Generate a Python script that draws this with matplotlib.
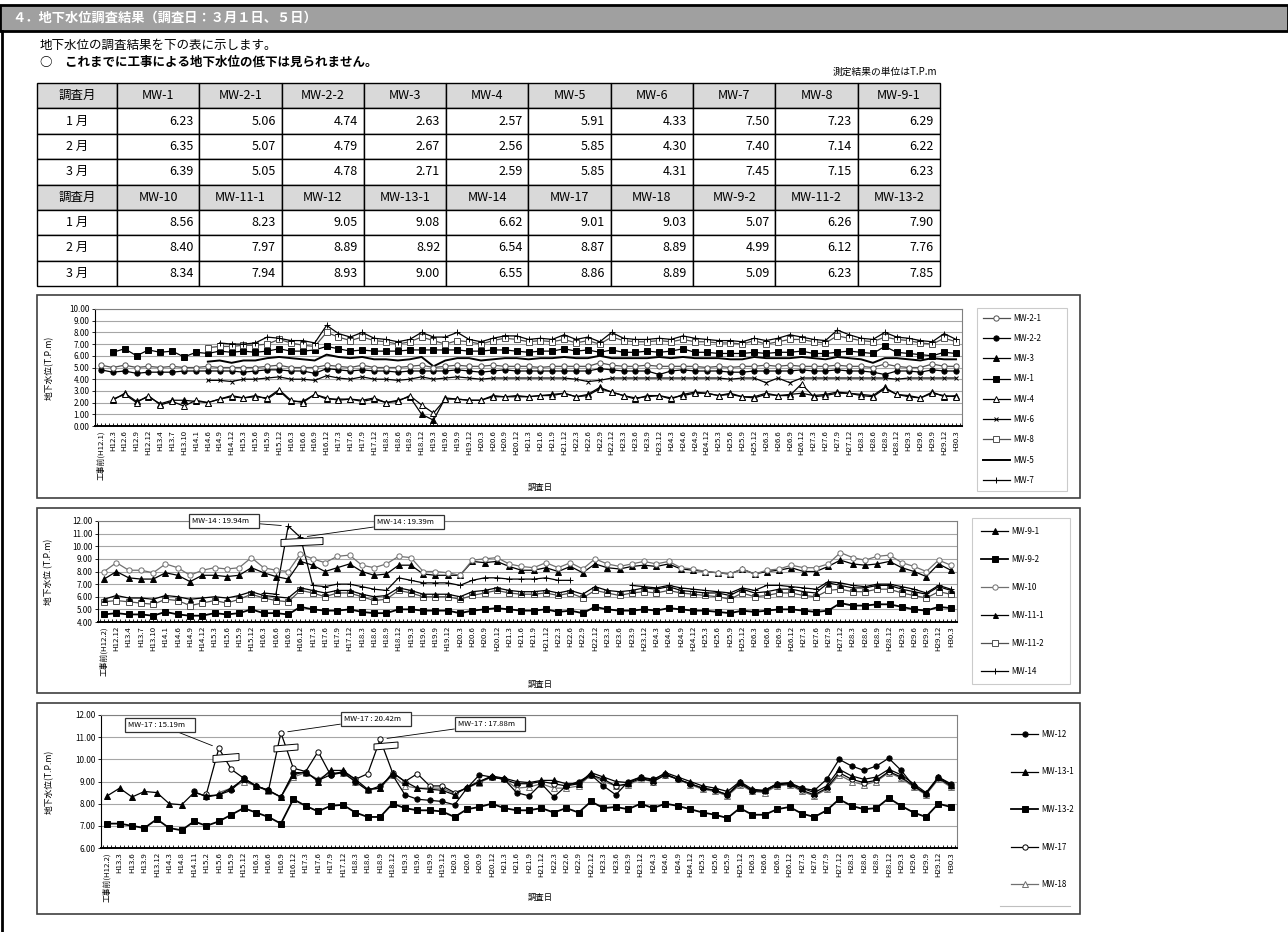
import numpy as np
import matplotlib
matplotlib.use('Agg')
import matplotlib.pyplot as plt
from matplotlib.patches import Rectangle, Polygon
from matplotlib.ticker import MultipleLocator, FormatStrFormatter

plt.rcParams['font.family'] = ['Noto Sans CJK JP', 'DejaVu Sans']

W, H = 1288, 932
N = None

# ---------------- table data ----------------
months = ['1 月', '2 月', '3 月']
wells_a = ['MW-1', 'MW-2-1', 'MW-2-2', 'MW-3', 'MW-4', 'MW-5', 'MW-6', 'MW-7', 'MW-8', 'MW-9-1']
jan_a = [6.23, 5.06, 4.74, 2.63, 2.57, 5.91, 4.33, 7.50, 7.23, 6.29]
feb_a = [6.35, 5.07, 4.79, 2.67, 2.56, 5.85, 4.30, 7.40, 7.14, 6.22]
mar_a = [6.39, 5.05, 4.78, 2.71, 2.59, 5.85, 4.31, 7.45, 7.15, 6.23]
wells_b = ['MW-10', 'MW-11-1', 'MW-12', 'MW-13-1', 'MW-14', 'MW-17', 'MW-18', 'MW-9-2', 'MW-11-2', 'MW-13-2']
jan_b = [8.56, 8.23, 9.05, 9.08, 6.62, 9.01, 9.03, 5.07, 6.26, 7.90]
feb_b = [8.40, 7.97, 8.89, 8.92, 6.54, 8.87, 8.89, 4.99, 6.12, 7.76]
mar_b = [8.34, 7.94, 8.93, 9.00, 6.55, 8.86, 8.89, 5.09, 6.23, 7.85]

# ---------------- chart 1 data ----------------
c1_labels = ['工事前(H12.1)'] + '''H12.3 H12.6 H12.9 H12.12 H13.4 H13.7 H13.10 H14.1 H14.6 H14.9 H14.12
H15.3 H15.6 H15.9 H15.12 H16.3 H16.6 H16.9 H16.12 H17.3 H17.6 H17.9 H17.12 H18.3 H18.6 H18.9 H18.12
H19.3 H19.6 H19.9 H19.12 H20.3 H20.6 H20.9 H20.12 H21.3 H21.6 H21.9 H21.12 H22.3 H22.6 H22.9 H22.12
H23.3 H23.6 H23.9 H23.12 H24.3 H24.6 H24.9 H24.12 H25.3 H25.6 H25.9 H25.12 H26.3 H26.6 H26.9 H26.12
H27.3 H27.6 H27.9 H27.12 H28.3 H28.6 H28.9 H28.12 H29.3 H29.6 H29.9 H29.12 H30.3'''.split()

mw2_1 = [5.2, 5.0, 5.2, 5.0, 5.1, 5.0, 5.1, 5.0, 5.0, 5.1,
         5.0, 5.0, 5.0, 5.0, 5.1, 5.2, 5.0, 5.0, 5.0, 5.2,
         5.1, 5.0, 5.2, 5.0, 5.0, 5.0, 5.1, 5.2, 5.0, 5.1,
         5.2, 5.1, 5.1, 5.2, 5.1, 5.1, 5.1, 5.0, 5.1, 5.1,
         5.1, 5.1, 5.4, 5.2, 5.1, 5.1, 5.2, 5.1, 5.1, 5.1,
         5.1, 5.0, 5.1, 5.0, 5.1, 5.1, 5.2, 5.1, 5.2, 5.1,
         5.1, 5.1, 5.2, 5.1, 5.1, 5.0, 5.3, 5.1, 5.0, 5.0,
         5.3, 5.1, 5.1]
mw2_2 = [4.8, 4.6, 4.7, 4.5, 4.6, 4.6, 4.6, 4.7, 4.7, 4.7,
         4.7, 4.7, 4.6, 4.7, 4.8, 4.8, 4.7, 4.7, 4.5, 4.9,
         4.8, 4.7, 4.8, 4.7, 4.7, 4.6, 4.7, 4.7, 4.7, 4.7,
         4.8, 4.7, 4.6, 4.7, 4.8, 4.7, 4.7, 4.7, 4.7, 4.7,
         4.7, 4.7, 4.9, 4.8, 4.7, 4.7, 4.7, 4.4, 4.7, 4.8,
         4.7, 4.7, 4.7, 4.6, 4.6, 4.7, 4.7, 4.7, 4.7, 4.8,
         4.7, 4.7, 4.8, 4.7, 4.7, 4.6, 4.4, 4.7, 4.7, 4.6,
         4.8, 4.7, 4.7]
mw3 = [N, 2.2, 2.8, 2.1, 2.5, 1.9, 2.2, 2.2, 2.1, 2.0,
       2.3, 2.5, 2.4, 2.6, 2.3, 3.0, 2.1, 2.1, 2.7, 2.3,
       2.3, 2.3, 2.1, 2.3, 2.0, 2.2, 2.5, 1.0, 0.5, 2.4,
       2.3, 2.2, 2.2, 2.6, 2.5, 2.6, 2.5, 2.6, 2.7, 2.8,
       2.5, 2.7, 3.3, 2.9, 2.6, 2.3, 2.6, 2.6, 2.3, 2.7,
       2.9, 2.8, 2.6, 2.8, 2.5, 2.5, 2.8, 2.6, 2.7, 2.8,
       2.6, 2.7, 2.9, 2.8, 2.7, 2.6, 3.3, 2.7, 2.6, 2.4,
       2.9, 2.5, 2.6]
mw1 = [N, 6.3, 6.6, 6.0, 6.5, 6.3, 6.4, 5.9, 6.3, 6.2,
       6.4, 6.3, 6.4, 6.3, 6.4, 6.6, 6.4, 6.4, 6.5, 6.8,
       6.6, 6.4, 6.5, 6.4, 6.4, 6.4, 6.5, 6.5, 6.5, 6.5,
       6.5, 6.4, 6.4, 6.5, 6.5, 6.4, 6.3, 6.4, 6.4, 6.6,
       6.4, 6.5, 6.3, 6.5, 6.3, 6.3, 6.4, 6.3, 6.4, 6.6,
       6.3, 6.3, 6.2, 6.2, 6.2, 6.3, 6.2, 6.3, 6.3, 6.4,
       6.2, 6.2, 6.3, 6.4, 6.3, 6.2, 6.8, 6.3, 6.2, 6.1,
       6.0, 6.3, 6.2]
mw4 = [N, 2.3, 2.7, 2.0, 2.6, 1.8, 2.1, 1.7, 2.2, 2.0,
       2.3, 2.6, 2.4, 2.5, 2.4, 3.1, 2.2, 2.0, 2.7, 2.4,
       2.2, 2.3, 2.2, 2.4, 2.0, 2.1, 2.6, 1.8, 1.1, 2.3,
       2.3, 2.2, 2.2, 2.5, 2.5, 2.5, 2.5, 2.6, 2.6, 2.8,
       2.5, 2.6, 3.2, 2.9, 2.6, 2.4, 2.5, 2.6, 2.4, 2.6,
       2.8, 2.8, 2.6, 2.7, 2.5, 2.4, 2.7, 2.6, 2.6, 3.6,
       2.5, 2.6, 2.8, 2.8, 2.6, 2.5, 3.2, 2.7, 2.5, 2.4,
       2.8, 2.6, 2.5]
mw6 = [N, N, N, N, N, N, N, N, N, 3.9,
       3.9, 3.8, 4.0, 4.0, 4.1, 4.2, 4.0, 4.0, 3.9, 4.3,
       4.1, 4.0, 4.2, 4.0, 4.0, 3.9, 4.0, 4.2, 4.0, 4.1,
       4.2, 4.1, 4.0, 4.1, 4.1, 4.1, 4.1, 4.1, 4.1, 4.1,
       4.0, 3.8, 3.9, 4.1, 4.1, 4.1, 4.1, 4.1, 4.1, 4.1,
       4.1, 4.1, 4.1, 4.0, 4.1, 4.1, 3.7, 4.1, 3.7, 4.1,
       4.1, 4.1, 4.1, 4.1, 4.1, 4.1, 4.1, 4.0, 4.1, 4.1,
       4.1, 4.1, 4.1]
mw8 = [N, N, N, N, N, N, N, N, N, 6.7,
       6.8, 6.8, 6.9, 6.9, 7.0, 7.4, 7.1, 6.9, 6.8, 8.0,
       7.6, 7.3, 7.6, 7.3, 7.2, 7.0, 7.2, 7.6, 7.3, 7.0,
       7.3, 7.2, 7.0, 7.3, 7.5, 7.4, 7.2, 7.3, 7.2, 7.4,
       7.1, 7.3, 7.0, 7.6, 7.3, 7.2, 7.2, 7.3, 7.2, 7.4,
       7.2, 7.2, 7.1, 7.1, 7.0, 7.3, 7.0, 7.2, 7.4, 7.4,
       7.2, 7.1, 7.7, 7.5, 7.3, 7.2, 7.6, 7.4, 7.3, 7.1,
       7.0, 7.5, 7.2]
mw5 = [N, N, N, N, N, N, N, N, N, 5.5,
       5.6, 5.4, 5.6, 5.6, 5.8, 5.9, 5.8, 5.7, 5.6, 6.1,
       5.9, 5.8, 5.9, 5.7, 5.7, 5.6, 5.7, 5.9, 5.1, 5.6,
       5.8, 5.8, 5.6, 5.7, 5.8, 5.8, 5.7, 5.8, 5.8, 5.9,
       5.8, 5.8, 6.0, 5.8, 5.8, 5.8, 5.8, 5.9, 5.8, 5.9,
       5.8, 5.8, 5.8, 5.7, 5.7, 5.9, 5.8, 5.8, 5.8, 5.9,
       5.8, 5.7, 5.9, 5.8, 5.7, 5.4, 5.8, 5.8, 5.7, 5.6,
       5.8, 5.7, 5.7]
mw7 = [N, N, N, N, N, N, N, N, N, N,
       7.1, 7.0, 7.0, 7.1, 7.6, 7.5, 7.3, 7.3, 7.1, 8.6,
       7.9, 7.6, 8.0, 7.5, 7.4, 7.2, 7.4, 8.0, 7.6, 7.6,
       8.0, 7.4, 7.2, 7.5, 7.7, 7.7, 7.4, 7.5, 7.4, 7.8,
       7.4, 7.6, 7.2, 8.0, 7.5, 7.4, 7.4, 7.5, 7.4, 7.7,
       7.5, 7.4, 7.3, 7.3, 7.2, 7.5, 7.3, 7.5, 7.8, 7.6,
       7.4, 7.3, 8.2, 7.8, 7.5, 7.4, 8.0, 7.6, 7.5, 7.3,
       7.2, 7.9, 7.4]

# ---------------- chart 2 data ----------------
c2_labels = ['工事前(H12.2)'] + '''H12.12 H13.4 H13.7 H13.10 H14.1 H14.6 H14.9 H14.12
H15.3 H15.6 H15.9 H15.12 H16.3 H16.6 H16.9 H16.12 H17.3 H17.6 H17.9 H17.12 H18.3 H18.6 H18.9 H18.12
H19.3 H19.6 H19.9 H19.12 H20.3 H20.6 H20.9 H20.12 H21.3 H21.6 H21.9 H21.12 H22.3 H22.6 H22.9 H22.12
H23.3 H23.6 H23.9 H23.12 H24.3 H24.6 H24.9 H24.12 H25.3 H25.6 H25.9 H25.12 H26.3 H26.6 H26.9 H26.12
H27.3 H27.6 H27.9 H27.12 H28.3 H28.6 H28.9 H28.12 H29.3 H29.6 H29.9 H29.12 H30.3'''.split()

mw9_1 = [7.4, 8.0, 7.5, 7.4, 7.4, 7.9, 7.7, 7.2, 7.7, 7.7,
         7.6, 7.7, 8.3, 7.9, 7.6, 7.4, 8.8, 8.5, 8.0, 8.3,
         8.6, 8.0, 7.7, 7.8, 8.5, 8.5, 7.8, 7.7, 7.7, 7.7,
         8.8, 8.7, 8.8, 8.4, 8.1, 8.1, 8.3, 8.0, 8.4, 7.9,
         8.6, 8.3, 8.2, 8.4, 8.5, 8.4, 8.6, 8.2, 8.1, 8.0,
         7.9, 7.8, 8.2, 7.8, 8.0, 8.1, 8.3, 8.0, 8.0, 8.4,
         8.9, 8.6, 8.5, 8.6, 8.8, 8.3, 8.0, 7.6, 8.6, 8.1]
mw9_2 = [4.6, 4.7, 4.6, 4.6, 4.5, 4.8, 4.6, 4.5, 4.5, 4.7,
         4.6, 4.7, 5.0, 4.7, 4.7, 4.6, 5.2, 5.0, 4.9, 4.9,
         5.0, 4.8, 4.7, 4.7, 5.0, 5.0, 4.9, 4.9, 4.9, 4.7,
         4.9, 5.0, 5.1, 5.0, 4.9, 4.9, 5.0, 4.8, 4.9, 4.7,
         5.2, 5.0, 4.9, 4.9, 5.0, 4.9, 5.1, 5.0, 4.9, 4.9,
         4.8, 4.7, 4.9, 4.8, 4.9, 5.0, 5.0, 4.9, 4.8, 4.9,
         5.5, 5.3, 5.3, 5.4, 5.4, 5.2, 5.0, 4.9, 5.2, 5.1]
mw10 = [8.0, 8.7, 8.1, 8.1, 7.9, 8.6, 8.3, 7.7, 8.1, 8.3,
        8.2, 8.3, 9.1, 8.3, 8.1, 8.0, 9.4, 9.0, 8.7, 9.2,
        9.3, 8.5, 8.3, 8.6, 9.2, 9.1, 8.0, 8.0, 7.9, 7.7,
        8.9, 9.0, 9.1, 8.6, 8.4, 8.3, 8.7, 8.3, 8.7, 8.2,
        9.0, 8.6, 8.4, 8.6, 8.8, 8.6, 8.8, 8.3, 8.2, 8.0,
        7.9, 7.8, 8.2, 7.8, 8.1, 8.2, 8.5, 8.3, 8.3, 8.6,
        9.5, 9.1, 8.9, 9.2, 9.3, 8.7, 8.4, 8.0, 8.9, 8.5]
mw11_1 = [5.8, 6.1, 5.9, 5.9, 5.8, 6.1, 6.0, 5.8, 5.9, 6.0,
          5.9, 6.1, 6.4, 6.1, 6.0, 5.9, 6.7, 6.5, 6.3, 6.5,
          6.5, 6.2, 6.0, 6.1, 6.7, 6.5, 6.2, 6.2, 6.2, 6.0,
          6.4, 6.5, 6.7, 6.5, 6.4, 6.4, 6.5, 6.3, 6.5, 6.2,
          6.8, 6.5, 6.4, 6.5, 6.7, 6.6, 6.8, 6.5, 6.4, 6.3,
          6.3, 6.1, 6.6, 6.3, 6.4, 6.6, 6.6, 6.4, 6.3, 7.1,
          6.9, 6.7, 6.7, 6.9, 6.9, 6.6, 6.4, 6.2, 6.8, 6.5]
mw11_2 = [5.6, 5.7, 5.6, 5.5, 5.4, 5.8, 5.7, 5.3, 5.5, 5.7,
          5.5, 5.8, 6.2, 5.9, 5.7, 5.6, 6.5, 6.3, 6.0, 6.3,
          6.3, 6.0, 5.7, 5.8, 6.5, 6.3, 6.0, 6.0, 6.0, 5.8,
          6.1, 6.3, 6.5, 6.3, 6.2, 6.2, 6.3, 6.1, 6.3, 5.9,
          6.5, 6.3, 6.1, 6.3, 6.4, 6.3, 6.5, 6.3, 6.2, 6.1,
          6.0, 5.8, 6.3, 6.0, 6.1, 6.3, 6.3, 6.1, 6.0, 6.5,
          6.6, 6.4, 6.4, 6.6, 6.6, 6.3, 6.1, 5.9, 6.4, 6.2]
mw14 = [N, N, N, N, N, N, N, N, N, N,
        N, N, N, 6.3, 6.2, 11.6, 10.7, 6.9, 6.8, 7.0,
        7.0, 6.8, 6.6, 6.5, 7.5, 7.3, 7.1, 7.1, 7.1, 6.9,
        7.3, 7.5, 7.5, 7.4, 7.4, 7.4, 7.5, 7.3, 7.3, N,
        N, N, N, 6.9, 6.8, 6.7, 6.9, 6.7, 6.6, 6.5,
        6.4, 6.3, 6.7, 6.5, 6.9, 6.9, 6.8, 6.7, 6.6, 7.2,
        7.1, 6.9, 6.8, 7.0, 7.0, 6.8, 6.6, 6.3, 6.9, 6.6]
c2_notes = [('MW-14 : 19.94m', 15), ('MW-14 : 19.39m', 16)]

# ---------------- chart 3 data ----------------
c3_labels = ['工事前(H12.2)'] + '''H13.3 H13.6 H13.9 H13.12 H14.3 H14.8 H14.11 H15.2 H15.6 H15.9 H15.12
H16.3 H16.6 H16.9 H16.12 H17.3 H17.6 H17.9 H17.12 H18.3 H18.6 H18.9 H18.12
H19.3 H19.6 H19.9 H19.12 H20.3 H20.6 H20.9 H20.12 H21.3 H21.6 H21.9 H21.12 H22.3 H22.6 H22.9 H22.12
H23.3 H23.6 H23.9 H23.12 H24.3 H24.6 H24.9 H24.12 H25.3 H25.6 H25.9 H25.12 H26.3 H26.6 H26.9 H26.12
H27.3 H27.6 H27.9 H27.12 H28.3 H28.6 H28.9 H28.12 H29.3 H29.6 H29.9 H29.12 H30.3'''.split()

mw12 = [N, N, N, N, N, N, N, 8.55, 8.3, 8.4,
        8.6, 9.15, 8.8, 8.6, 8.3, 9.4, 9.4, 9.05, 9.3, 9.4,
        9.0, 8.6, 8.8, 9.3, 8.4, 8.2, 8.15, 8.1, 7.95, 8.7,
        9.3, 9.2, 9.1, 8.5, 8.35, 8.9, 8.3, 8.8, 9.0, 9.3,
        8.8, 8.4, 9.0, 9.2, 9.1, 9.35, 9.1, 8.9, 8.7, 8.6,
        8.4, 9.0, 8.55, 8.6, 8.9, 8.9, 8.7, 8.6, 9.1, 10.0,
        9.7, 9.5, 9.7, 10.05, 9.5, 8.8, 8.45, 9.2, 8.9]
mw13_1 = [8.35, 8.7, 8.3, 8.55, 8.5, 8.0, 7.95, 8.5, 8.35, 8.4,
          8.7, 9.1, 8.8, 8.6, 8.3, 9.3, 9.45, 9.0, 9.5, 9.5,
          9.1, 8.65, 8.7, 9.4, 9.0, 8.7, 8.65, 8.6, 8.4, 8.75,
          9.0, 9.25, 9.15, 9.0, 8.95, 9.05, 9.05, 8.9, 8.9, 9.4,
          9.2, 9.0, 8.95, 9.2, 9.05, 9.4, 9.2, 9.0, 8.8, 8.7,
          8.55, 9.0, 8.65, 8.6, 8.9, 8.95, 8.7, 8.5, 8.8, 9.55,
          9.25, 9.1, 9.2, 9.55, 9.3, 8.9, 8.5, 9.2, 8.85]
mw13_2 = [7.1, 7.1, 7.0, 6.9, 7.3, 6.9, 6.8, 7.2, 7.0, 7.2,
          7.5, 7.8, 7.6, 7.4, 7.1, 8.2, 7.9, 7.65, 7.9, 7.95,
          7.6, 7.4, 7.4, 8.0, 7.8, 7.7, 7.7, 7.65, 7.4, 7.75,
          7.85, 8.0, 7.8, 7.7, 7.7, 7.8, 7.6, 7.8, 7.6, 8.1,
          7.8, 7.85, 7.75, 8.0, 7.8, 8.0, 7.9, 7.75, 7.6, 7.5,
          7.35, 7.8, 7.5, 7.5, 7.75, 7.85, 7.55, 7.4, 7.7, 8.2,
          7.9, 7.75, 7.8, 8.25, 7.9, 7.6, 7.4, 8.0, 7.85]
mw17 = [N, N, N, N, N, N, N, N, 8.45, 10.5,
        9.55, 9.15, 8.8, 8.6, 11.2, 9.6, 9.45, 10.35, 9.3, 9.45,
        9.1, 9.35, 10.9, 9.4, 9.0, 9.35, 8.8, 8.8, 8.5, 8.7,
        9.0, 9.2, 9.1, 8.9, 8.9, 9.0, 8.9, 8.8, 8.9, 9.3,
        9.1, 8.8, 8.9, 9.15, 9.0, 9.3, 9.1, 8.9, 8.7, 8.6,
        8.4, 8.9, 8.6, 8.55, 8.85, 8.9, 8.6, 8.4, 8.7, 9.4,
        9.1, 8.95, 9.05, 9.45, 9.2, 8.8, 8.45, 9.15, 8.8]
mw18 = [N, N, N, N, N, N, N, N, N, 8.5,
        8.7, 9.0, 8.8, 8.55, 8.3, 9.2, 9.4, 9.1, 9.4, 9.4,
        9.0, 8.6, 8.7, 9.3, 8.8, 8.7, 8.7, 8.7, 8.45, 8.7,
        8.95, 9.2, 9.1, 8.7, 8.75, 8.9, 8.7, 8.7, 8.8, 9.3,
        9.0, 8.8, 8.85, 9.1, 9.0, 9.3, 9.1, 8.85, 8.65, 8.55,
        8.35, 8.85, 8.55, 8.5, 8.8, 8.85, 8.55, 8.35, 8.65, 9.3,
        9.0, 8.85, 9.0, 9.4, 9.15, 8.75, 8.4, 9.1, 8.75]
c3_notes = [('MW-17 : 15.19m', 9), ('MW-17 : 20.42m', 14), ('MW-17 : 17.88m', 22)]


def fig_box(x0, y0, x1, y1):
    # pixel box (top-left origin) -> figure fraction
    return [x0 / W, 1 - y1 / H, (x1 - x0) / W, (y1 - y0) / H]


def style(marker, face='black', edge='black', ms=3.8, lw=0.9, color='black'):
    return dict(marker=marker, mfc=face, mec=edge, ms=ms, lw=lw, color=color, mew=0.7)


fig = plt.figure(figsize=(W / 100, H / 100), dpi=100)
bg = fig.add_axes([0, 0, 1, 1])
bg.set_xlim(0, W)
bg.set_ylim(H, 0)
bg.axis('off')

# header bar and page border
bg.add_patch(Rectangle((0, 5), W, 26, fc='#a0a0a0', ec='black', lw=2))
bg.text(12, 18, '４．地下水位調査結果（調査日：３月１日、５日）', color='white',
        fontsize=9.5, fontweight='bold', va='center')
bg.plot([2, 2], [31, H], color='black', lw=2)

bg.text(40, 45, '地下水位の調査結果を下の表に示します。', fontsize=9, va='center')
bg.text(40, 62, '○　これまでに工事による地下水位の低下は見られません。', fontsize=9,
        fontweight='bold', va='center')
bg.text(937, 72, '測定結果の単位はT.P.m', fontsize=7, ha='right', va='center')

# table
col_x = [37] + list(np.linspace(117, 940, 11))
row_y = np.linspace(83, 286, 9)
r = 0
for wells, vals in [(wells_a, [jan_a, feb_a, mar_a]), (wells_b, [jan_b, feb_b, mar_b])]:
    rows = [['調査月'] + wells] + [[m] + ['%.2f' % v for v in row] for m, row in zip(months, vals)]
    for k, row in enumerate(rows):
        y0, y1 = row_y[r], row_y[r + 1]
        for c, txt in enumerate(row):
            x0, x1 = col_x[c], col_x[c + 1]
            bg.add_patch(Rectangle((x0, y0), x1 - x0, y1 - y0,
                                   fc='#d9d9d9' if k == 0 else 'white', ec='black', lw=1))
            if k == 0 or c == 0:
                bg.text((x0 + x1) / 2, (y0 + y1) / 2, txt, ha='center', va='center', fontsize=9)
            else:
                bg.text(x1 - 6, (y0 + y1) / 2, txt, ha='right', va='center', fontsize=9)
        r += 1


def draw_chart(frame, plot, labels, series, ylim, ystep, ylabel, xlabel_y):
    x0, y0, x1, y1 = frame
    bg.add_patch(Rectangle((x0, y0), x1 - x0, y1 - y0, fc='white', ec='#404040', lw=1.2))
    ax = fig.add_axes(fig_box(*plot))
    x = np.arange(len(labels))
    lines = {}
    for name, vals, st in series:
        lines[name] = ax.plot(x, np.array(vals, dtype=float), label=name, **st)[0]
    ax.set_xlim(-0.5, len(labels) - 0.5)
    ax.set_ylim(*ylim)
    ax.yaxis.set_major_locator(MultipleLocator(ystep))
    ax.yaxis.set_major_formatter(FormatStrFormatter('%.2f'))
    ax.set_xticks(x)
    ax.set_xticklabels(labels, rotation=90, fontsize=5.6)
    ax.xaxis.set_minor_locator(MultipleLocator(1 / 3))
    ax.tick_params(axis='x', which='both', direction='in', length=2, width=0.6, pad=3)
    ax.tick_params(axis='y', labelsize=5.8, length=2, width=0.6, pad=2)
    ax.yaxis.grid(True, color='#a6a6a6', lw=0.8)
    ax.set_axisbelow(True)
    for s in ['top', 'right']:
        ax.spines[s].set_color('#808080')
        ax.spines[s].set_linewidth(0.8)
    ax.spines['left'].set_linewidth(0.8)
    ax.spines['bottom'].set_linewidth(1.4)
    bg.text(49, (plot[1] + plot[3]) / 2, ylabel, rotation=90, fontsize=6.3, ha='center', va='center')
    bg.text(540, xlabel_y, '調査日', fontsize=6, ha='center', va='center')
    return ax, lines


def add_legend(ax, lines, order, top, left, width, spacing, pad, frame=True):
    leg = ax.legend([lines[k] for k in order], order, loc='upper left',
                    bbox_to_anchor=(left / W, 1 - top / H, width / W, 0),
                    bbox_transform=fig.transFigure, mode='expand', borderaxespad=0,
                    fontsize=5.8, handlelength=3.4, handletextpad=0.4,
                    labelspacing=spacing, borderpad=pad, frameon=frame, fancybox=False)
    leg.get_frame().set_edgecolor('#bfbfbf')
    leg.get_frame().set_linewidth(0.8)
    return leg


def add_notes(ax, vals, notes, boxes):
    for (txt, i), (bx, by) in zip(notes, boxes):
        ax.annotate(txt + '    ', xy=(i, vals[i]), xytext=(bx, by), textcoords=bg.transData,
                    ha='center', va='center', fontsize=5.6, zorder=6, annotation_clip=False,
                    bbox=dict(boxstyle='square,pad=0.4', fc='white', ec='#333333', lw=0.9),
                    arrowprops=dict(arrowstyle='-', lw=0.6, color='black', shrinkA=0, shrinkB=5))


def add_break(ax, cx, cy, w, h):
    pts = [(cx - w / 2, cy - h / 2 + 1), (cx + w / 2, cy - h / 2 - 1),
           (cx + w / 2, cy + h / 2 - 1), (cx - w / 2, cy + h / 2 + 1)]
    ax.add_artist(Polygon(pts, closed=True, fc='white', ec='black', lw=0.7,
                          transform=bg.transData, clip_on=False, zorder=5))


# ---------------- chart 1 ----------------
gray = '#505050'
ax1, l1 = draw_chart((37, 295, 1080, 498), (95, 309, 962, 426), c1_labels, [
    ('MW-5', mw5, dict(lw=1.4, color='black')),
    ('MW-2-2', mw2_2, style('o')),
    ('MW-2-1', mw2_1, style('o', face='white', edge=gray, color=gray)),
    ('MW-1', mw1, style('s', ms=4)),
    ('MW-6', mw6, style('x', ms=3.4)),
    ('MW-8', mw8, style('s', face='white', edge=gray, ms=4, color=gray)),
    ('MW-7', mw7, style('+', ms=4.5)),
    ('MW-3', mw3, style('^', ms=4)),
    ('MW-4', mw4, style('^', face='white', ms=4)),
], (0, 10), 1, '地下水位(T.P.m)', 487)
add_legend(ax1, l1, ['MW-2-1', 'MW-2-2', 'MW-3', 'MW-1', 'MW-4', 'MW-6', 'MW-8', 'MW-5', 'MW-7'],
           308, 977, 90, 1.4, 0.7)

# ---------------- chart 2 ----------------
ax2, l2 = draw_chart((37, 508, 1080, 693), (98, 521, 957, 622), c2_labels, [
    ('MW-9-2', mw9_2, style('s', ms=4, lw=1.3)),
    ('MW-11-2', mw11_2, style('s', face='white', edge=gray, ms=4, color=gray)),
    ('MW-11-1', mw11_1, style('^', ms=3.6)),
    ('MW-14', mw14, style('+', ms=4.5)),
    ('MW-9-1', mw9_1, style('^', ms=3.8)),
    ('MW-10', mw10, style('o', face='white', edge='#707070', color='#707070')),
], (4, 12), 1, '地下水位 (T.P.m)', 684)
add_legend(ax2, l2, ['MW-9-1', 'MW-9-2', 'MW-10', 'MW-11-1', 'MW-11-2', 'MW-14'],
           518, 972, 98, 2.35, 1.1)
add_notes(ax2, mw14, c2_notes, [(224, 521), (409, 522)])
add_break(ax2, 302, 542, 42, 7)

# ---------------- chart 3 ----------------
ax3, l3 = draw_chart((37, 703, 1080, 914), (101, 715, 957, 848), c3_labels, [
    ('MW-13-2', mw13_2, style('s', ms=4, lw=1.3)),
    ('MW-18', mw18, style('^', face='white', edge='#707070', color='#707070')),
    ('MW-17', mw17, style('o', face='white')),
    ('MW-13-1', mw13_1, style('^', ms=3.8)),
    ('MW-12', mw12, style('o', ms=3.8)),
], (6, 12), 1, '地下水位(T.P.m)', 897)
add_legend(ax3, l3, ['MW-12', 'MW-13-1', 'MW-13-2', 'MW-17', 'MW-18'],
           719, 1000, 70, 3.55, 1.35, frame=False)
bg.plot([1000, 1070], [906, 906], color='#bfbfbf', lw=0.8)
add_notes(ax3, mw17, c3_notes, [(160, 725), (376, 719), (490, 724)])
add_break(ax3, 226, 758, 26, 7)
add_break(ax3, 286, 748, 24, 6)
add_break(ax3, 386, 746, 24, 6)

fig.savefig('out.png', dpi=100)
